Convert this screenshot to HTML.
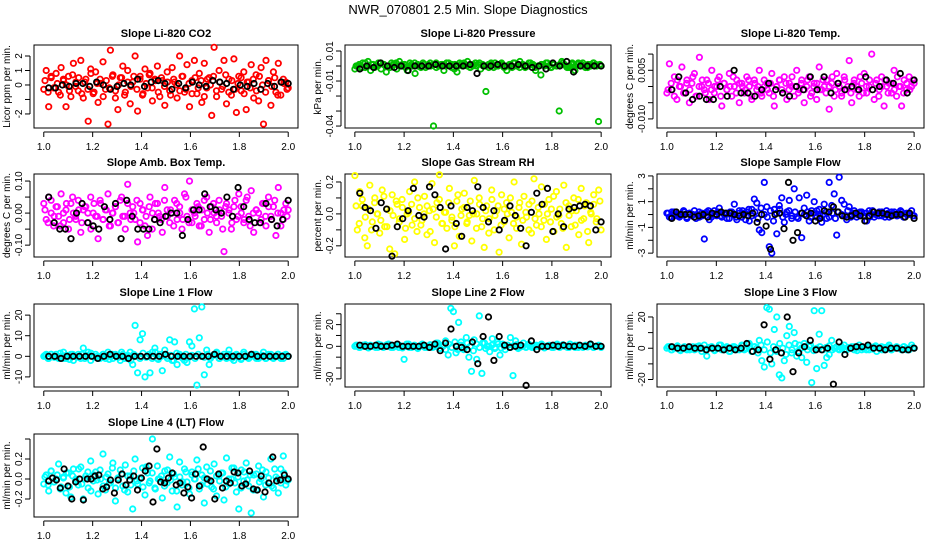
<!DOCTYPE html>
<html><head><meta charset="utf-8">
<style>
html,body{margin:0;padding:0;background:#fff;}
svg{display:block;font-family:"Liberation Sans",Arial,sans-serif;}
</style></head>
<body>
<svg id="chart" width="936" height="540" viewBox="0 0 936 540" xmlns="http://www.w3.org/2000/svg">
<text x="468" y="14" text-anchor="middle" font-size="13">NWR_070801  2.5 Min. Slope Diagnostics</text>
</svg>
<script>
// ---- data (values in the units of each panel's y ticks) ----
const xTicks = [1.0, 1.2, 1.4, 1.6, 1.8, 2.0];
const xTickLabels = ["1.0", "1.2", "1.4", "1.6", "1.8", "2.0"];

const co2Main = [-0.3,1,-1.5,0.5,-0.2,0.8,-0.5,1.2,0.3,-1.5,0.6,-0.8,1.5,0.2,-0.4,1.7,-0.9,0.4,-2.5,1.1,-0.6,0.9,-1.2,0.1,1.6,-0.3,-2.7,2.4,0.7,-0.9,-1.7,0.5,1.3,-0.5,1,-1.3,0.2,2,-1.8,0.6,-0.7,1.1,-0.2,0.8,-1.1,0.4,1.3,-0.8,0.3,-1.4,0.9,-0.4,1.2,0.2,-0.9,2,0.6,-0.5,1.4,-1.5,0.3,1.7,-0.6,0.8,-1.2,1.5,-0.2,0.5,-2.1,2.6,-0.8,1,-0.3,1.7,-1.3,0.4,-0.7,1.8,-1.9,0.6,-0.4,0.9,-1.7,0.2,1.4,-0.9,0.7,-1.1,1.2,-2.7,1.7,0.3,-1.4,0.9,-0.5,1.5,-0.7,0.4,0.2,-0.2];
const co2Core = [0.3,-0.5,0.6,-0.2,0.1,-0.7,0.4,0,-0.4,0.7,-0.1,0.5,-0.6,0.2,-0.3,0.8,-0.5,0.1,0.4,-0.8,0.3,-0.2,0.6,-0.4,0,0.5,-0.7,0.2,-0.1,0.6,-0.3,0.4,-0.6,0.1,0.7,-0.2,0.3,-0.5,0.5,-0.1,0.2,-0.7,0.4,0,-0.4,0.6,-0.3,0.1,-0.6,0.5,-0.2,0.3,-0.8,0.4,0,0.6,-0.4,0.2,-0.1,0.7,-0.5,0.3,-0.3,0.1,0.5,-0.6,0.2,-0.2,0.4,-0.4,0.6,0,-0.5,0.3,-0.1,0.5,-0.7,0.2,0.1,-0.3];
const co2Ref = [-0.2,-0.2,0,-0.1,0.1,0.1,-0.1,0.2,0,-0.3,-0.1,0.1,0,0.4,-0.1,0.2,0.3,0.1,-0.3,0.1,-0.2,0.2,0,-0.1,0.3,0.2,0.1,-0.3,0,-0.1,0.1,-0.3,0.1,-0.1,0.2,0.1];

const presMain = [-2,0,-1,2,-1,3,-3,1,0,2,-2,1,-4,0,2,1,-2,3,0,1,-3,2,0,-5,1,0,2,-1,1,0,-40,2,0,1,-3,2,0,1,-2,-4,2,0,1,3,-1,0,2,1,-2,0,-17,1,2,-1,0,1,2,0,-3,1,-1,2,0,3,1,-1,0,2,1,-3,0,-6,1,2,0,-1,1,0,-30,3,1,-1,0,2,-3,1,0,2,-1,1,0,2,1,-37,0];
const presCore = [0,1,-1,2,0,1,-1,0,2,1,0,-1,1,2,0,1,-1,0,1,2,0,-1,1,0,2,1,-1,0,1,0,2,-1,1,0,1,2,0,-1,1,0,2,1,0,-1,1,2,0,1,-1,0,1,2,0,-1,1,0,2,1,-1,0,1,0,2,-1,1,0,1,2,0,-1,1,0,2,1,0,-1,1,2,0,1];
const presRef = [-2,0,-1,2,0,-1,0,-3,0,0,0,1,0,0,0,0,1,-5,0,0,1,0,0,1,0,-1,0,-2,2,0,3,-4,0,0,0,0];

const tempMain = [-2,7,-1,3,-4,0,6,-2,2,-5,1,4,-3,9,0,-1,2,-4,5,-2,0,3,-6,1,-1,4,-3,0,2,-5,1,-2,3,0,-4,2,-1,5,-3,0,1,-2,4,-6,0,2,-1,3,-4,1,0,-3,5,-1,2,-5,0,3,-2,1,-4,6,-1,0,2,-7,1,-3,4,0,-2,3,-1,8,-5,2,0,-3,1,4,-2,0,10,-4,2,-1,3,-6,0,1,-2,5,-3,0,-6,2,-1,3,0,1];
const tempCore = [-1,1,-3,2,0,-2,1,-1,3,-3,0,2,-2,1,-1,0,2,-3,1,-1,0,3,-2,1,0,-1,2,-3,1,0,-2,2,-1,1,-3,0,2,-2,1,-1,3,0,-2,1,-1,2,-3,0,1,-1,2,-2,0,3,-1,1,-3,2,0,-2,1,-1,3,-2,0,2,-1,1,-3,0,2,-2,1,-1,3,0,-2,1,-1,2];
const tempRef = [-1,3,-2,-4,-3,-4,-4,0,-3,5,-2,-2,-3,-1,1,-1,-2,-3,0,-1,3,-1,3,-2,1,-1,0,-1,3,-1,0,2,1,4,-2,2];

const ambMain = [3,-2,5,0,-4,2,-1,6,-3,1,-5,3,0,-2,4,-6,1,2,-3,5,0,-1,-8,3,-2,1,6,-4,0,2,-3,4,-1,-5,9,0,2,-2,-9,3,1,-4,-7,5,0,-2,3,-1,-6,8,1,-3,0,4,-2,2,-5,6,-1,10,-3,0,3,-4,1,-2,5,-6,2,0,-3,4,-1,-12,3,1,-5,2,-2,6,0,-3,4,-1,7,-6,1,0,-2,3,-4,5,-1,2,-7,8,0,-2,3,1];
const ambCore = [1,-3,4,-1,2,-4,0,3,-2,5,-1,1,-3,2,0,-5,3,-1,4,-2,1,-4,0,2,-3,5,-1,3,-2,0,4,-3,1,-1,2,-5,3,0,-2,4,-1,1,-4,3,0,-2,5,-3,1,-1,2,-4,4,0,-2,3,-1,1,-5,2,0,-3,4,-1,2,-2,5,-4,0,1,-3,3,-1,2,-2,4,0,-4,1,-1];
const ambRef = [5,-3,-5,-5,-8,0,3,-3,-4,-5,2,-2,3,-8,4,-1,-5,-5,-5,-2,-3,-1,0,0,-7,-2,1,1,6,2,1,0,5,-1,8,2,-2,-3,-3,3,-2,-4,-2,4];

const rhMain = [24,-10,14,5,-15,-20,18,-5,10,0,-12,15,-8,3,-22,12,-25,6,-3,9,-16,0,14,-7,20,-11,4,-4,11,-13,2,19,-18,7,25,-6,1,-9,16,-2,-20,8,-14,3,13,-6,-1,-17,21,0,10,-8,-21,5,-3,15,-10,2,-24,12,-5,7,-15,1,20,-9,4,-19,11,-2,6,-12,22,-7,0,17,-4,-16,9,3,-11,14,-1,-6,18,-21,5,-8,10,2,-13,16,-3,7,-18,0,12,-5,15,-10];
const rhCore = [5,-6,9,-2,3,-10,7,0,-4,11,-8,2,-1,8,-5,4,-9,1,6,-3,10,-7,0,5,-11,3,-2,9,-6,1,7,-4,-8,12,-1,4,-5,8,0,-9,6,-3,2,-12,9,-1,5,-7,3,0,10,-6,-2,7,-4,1,-10,8,-3,4,-8,6,0,-5,11,-2,3,-9,7,-1,2,-7,9,-4,5,-11,1,6,-3,8];
const rhRef = [13,4,2,-9,7,3,-27,-8,-3,2,16,-1,-2,17,12,4,-22,5,-6,-14,4,2,17,4,-5,2,-10,-4,5,-1,-9,-20,1,13,6,16,-11,0,-8,3,4,5,6,5,-10,-5];

const sfMain = [0.1,-0.2,0.2,0,-0.1,-0.2,0,0.2,-0.3,0.1,-0.1,0.3,0,-0.2,0.1,-1.9,0.2,-0.4,0,0.3,-0.1,0.5,-0.2,0,0.1,-0.3,0.2,0.8,-0.4,0.3,-0.2,0.1,0.2,-0.5,0.4,1.2,0.9,-1.2,-1.4,2.5,0.6,-2.5,-3,0.4,-1.5,0.7,1.3,-0.6,0.2,1.1,-0.3,2.0,-0.2,1.3,-1.8,0.5,1.5,-0.5,0.3,1.0,-0.2,0.4,-0.6,0.8,-0.3,2.5,0.7,1.6,-1.6,2.9,1.1,0.8,-0.4,0.6,0,0.3,-0.2,0.1,0.2,-0.1,-0.5,0.3,0,-0.2,0.1,0.2,-0.1,0,0.3,-0.2,0.2,0,-0.1,0.1,0.2,-0.2,0,0.1,0.3,-0.1];
const sfCore = [0.1,-0.2,0.2,0,-0.1,0.3,-0.2,0.1,0,-0.3,0.2,-0.1,0.1,0.3,-0.2,0,0.2,-0.1,0.1,-0.3,0.2,0,-0.2,0.1,0.3,-0.4,0.4,-0.1,0.2,-0.3,0.5,0,-0.2,0.3,-0.5,0.1,0.4,-0.2,0,0.3,-0.1,0.2,-0.3,0.1,0,0.2,-0.2,0.1,0.3,-0.1,0,0.2,-0.2,0.1,-0.3,0.2,0,-0.1,0.3,-0.2,0.1,0,0.2,-0.1,0.1,-0.2,0.3,0,-0.1,0.2,-0.2,0.1,0,0.2,-0.1,0.3,-0.2,0.1,0,-0.1];
const sfRef = [-0.3,0.2,0,0,0,-0.2,-0.1,0,-0.2,0.1,0,0.2,0.1,0.1,0,-0.1,0,-0.1,0.1,-0.6,0,-0.9,-2.7,0,0.1,-1.1,2.5,-2.0,-1.4,0.1,-0.1,0.1,-0.5,-0.3,0.3,0.2,0.6,0.2,-0.1,-0.2,-0.1,0.1,-0.1,-0.5,-0.1,0.2,0.1,0.1,0,-0.1,0,0,-0.2,0.1,-0.3];

const l1Main = [0,1,-1,1,0,1,-1,0,2,-1,0,1,-2,0,1,-1,4,0,2,-2,0,1,-1,0,1,-1,2,0,-1,1,0,-2,1,0,-1,2,-4,15,-8,8,11,-10,0,-8,2,4,-1,1,-7,3,0,8,-2,7,-4,1,0,-2,-3,7,5,23,-14,9,24,-9,3,-4,0,1,2,-1,0,1,-1,3,0,-2,1,0,-1,2,0,-1,1,0,1,-1,0,2,-1,0,1,-1,0,1,0,-1,1,0];
const l1Core = [0.5,-1,1,-0.5,0,1.5,-1,0.5,-1.5,1,0,-0.5,1,-1,0.5,1.5,-0.5,0,-1,1,0.5,-1.5,1,0,-0.5,2,-1,0.5,-2,1,0,-1,1.5,-0.5,1,-1,2,-1.5,0,1,-1,0.5,-2,1.5,0,-1,1,-0.5,0.5,-1,1,0,-0.5,1,-1,0.5,1.5,-1,0,-0.5,1,-1,0.5,0,-1.5,1,-0.5,0.5,1,-1,0,0.5,-1,1,-0.5,0,1,-1,0.5,0];
const l1Ref = [0,0,-1,0,0,0,0,0,-1,0,1,0,0,-1,0,0,0,0,0,1,0,0,0,0,0,0,0,1,0,0,0,0,0,1,0,0,0,0,0,0];

const l2Main = [0,1,-1,1,0,-1,1,0,-1,2,1,-1,0,2,-1,0,1,-1,0,-12,2,-1,0,1,-1,0,2,-1,0,1,-1,0,3,-2,0,5,-8,35,32,-6,22,4,-3,8,-10,-23,6,-12,28,-25,3,0,-5,7,-2,4,-8,2,-3,1,8,-27,5,-2,0,3,-1,2,0,-1,1,0,2,-1,0,1,-1,0,2,-1,1,0,-1,2,0,-1,1,0,-1,1,0,2,-1,0,1,-1];
const l2Core = [1,-1,0,1.5,-1.5,0.5,0,-1,1,-0.5,1.5,0,-1,0.5,1,-1.5,0,2,-1,0.5,-2,1,0,-1,1.5,-0.5,3,-2,1,-3,2,-1,4,-3,1,-2,3,0,-4,2,-1,3,-2,0,1,-1,2,-1.5,0,1,-1,0.5,1.5,-1,0,-0.5,1,-1,0.5,0,1,-1.5,0.5,0,-1,1,-0.5,1.5,0,-1,0.5,1,-1,0,0.5,-0.5,1,-1,0,0.5];
const l2Ref = [1,0,0,1,0,0,1,2,0,0,0,0,1,-1,2,-4,3,16,0,-1,-3,4,-16,9,27,-13,9,1,-1,0,1,-36,5,-3,0,0,1,0,1,0,0,1,0,2,0,0];

const l3Main = [0,1,-1,0,1,-1,0,1,-1,0,0,-1,1,0,-2,2,-5,0,1,-1,0,2,-1,0,1,-2,0,1,-1,0,2,-1,0,3,-2,1,0,5,-8,-12,26,25,-10,12,20,-17,-19,-8,8,14,-3,10,-5,2,-6,3,-9,1,-22,24,-13,9,24,-11,-6,-4,5,0,1,-1,0,2,-1,0,1,-1,0,2,-1,0,1,-1,0,1,-2,0,1,-1,0,2,-1,0,1,0,-1,1,0,-1,2,0];
const l3Core = [1,-1,0,1.5,-1.5,0.5,0,-1,1,-0.5,1.5,0,-1,0.5,1,-1.5,0,2,-1,0.5,-2,1,0,-1,1.5,-0.5,3,-2,1,-3,2,-1,4,-3,1,-2,3,0,-4,2,-1,3,-2,0,1,-1,2,-1.5,0,1,-1,0.5,1.5,-1,0,-0.5,1,-1,0.5,0,1,-1.5,0.5,0,-1,1,-0.5,1.5,0,-1,0.5,1,-1,0,0.5,-0.5,1,-1,0,0.5];
const l3Ref = [1,0,0,1,0,0,-1,0,0,-1,0,-1,0,3,-2,-1,15,-7,-1,-3,20,-15,-3,1,5,-1,-1,0,-23,4,-4,0,1,1,2,0,0,-1,0,0,-1,-1,0];

const l4Main = [-5,4,-12,8,-3,0,15,-8,2,-14,6,-18,10,0,-6,12,-20,3,-9,18,-2,7,-15,0,25,-11,5,-4,16,-22,1,9,-7,14,-13,3,-30,20,-5,0,11,-16,6,-2,40,-9,13,0,-19,8,-4,22,-12,2,-28,17,-6,10,-3,-15,7,0,19,-10,4,-24,12,-1,-8,15,-17,3,6,-21,21,-5,0,11,-13,-30,9,-2,16,-7,-34,4,-11,13,0,-18,7,-4,20,-9,2,-14,10,23,-6,-1];
const l4Core = [2,-6,8,-3,4,-10,1,6,-8,3,-2,10,-5,0,7,-12,4,-1,9,-7,2,-4,11,-9,0,5,-11,3,-6,8,-2,1,-8,12,-4,6,-10,0,3,-7,9,-1,5,-12,2,-3,7,-9,4,0,10,-6,1,-5,8,-10,3,-2,6,-8,0,11,-4,2,-9,7,-1,4,-11,5,-3,9,-6,1,-7,10,0,-4,6,-2];
const l4Ref = [-2,1,-1,-9,10,-7,-20,-3,0,-21,0,0,3,4,-10,-8,-1,-14,-1,5,-6,-1,3,-11,1,8,13,-23,30,-3,-4,1,6,-6,-4,-14,-8,-19,5,-7,32,0,-2,-20,5,-9,-2,-4,7,6,-7,-5,8,-10,-11,3,-13,-4,22,-2,-1,4,0];

// ---- panel definitions (layout, not data) ----
const panels = [
 {name:"co2", title:"Slope Li-820 CO2", ylab:"Licor ppm per min.", col:0,row:0, color:"#ff0000", main:co2Main, core:co2Core, ref:co2Ref, ymin:-2.97, ymax:2.76, ticks:[2,1,0,-1,-2], labels:["2","1","0","","-2"]},
 {name:"pressure", title:"Slope Li-820 Pressure", ylab:"kPa per min.", col:1,row:0, color:"#00c000", main:presMain, core:presCore, ref:presRef, ymin:-41.3, ymax:14, ticks:[10,0,-10,-20,-30,-40], labels:["0.01","","-0.01","","","-0.04"]},
 {name:"temp", title:"Slope Li-820 Temp.", ylab:"degrees C per min.", col:2,row:0, color:"#ff00ff", main:tempMain, core:tempCore, ref:tempRef, ymin:-12.8, ymax:12.8, ticks:[10,5,0,-5,-10], labels:["","0.005","","","-0.010"]},
 {name:"amb-box-temp", title:"Slope Amb. Box Temp.", ylab:"degrees C per min.", col:0,row:1, color:"#ff00ff", main:ambMain, core:ambCore, ref:ambRef, ymin:-13.7, ymax:12.2, ticks:[10,5,0,-5,-10], labels:["0.10","","0.00","","-0.10"]},
 {name:"gas-rh", title:"Slope Gas Stream RH", ylab:"percent per min.", col:1,row:1, color:"#ffff00", main:rhMain, core:rhCore, ref:rhRef, ymin:-27, ymax:25, ticks:[20,10,0,-10,-20], labels:["0.2","","0.0","","-0.2"]},
 {name:"sample-flow", title:"Slope Sample Flow", ylab:"ml/min per min.", col:2,row:1, color:"#0000ff", main:sfMain, core:sfCore, ref:sfRef, ymin:-3.3, ymax:3.15, ticks:[3,2,1,0,-1,-2,-3], labels:["3","","1","","-1","","-3"]},
 {name:"line1-flow", title:"Slope Line 1 Flow", ylab:"ml/min per min.", col:0,row:2, color:"#00ffff", main:l1Main, core:l1Core, ref:l1Ref, ymin:-14.9, ymax:25.4, ticks:[20,10,0,-10], labels:["20","10","0","-10"]},
 {name:"line2-flow", title:"Slope Line 2 Flow", ylab:"ml/min per min.", col:1,row:2, color:"#00ffff", main:l2Main, core:l2Core, ref:l2Ref, ymin:-37.5, ymax:39, ticks:[30,20,10,0,-10,-20,-30], labels:["","20","","0","","","-30"]},
 {name:"line3-flow", title:"Slope Line 3 Flow", ylab:"ml/min per min.", col:2,row:2, color:"#00ffff", main:l3Main, core:l3Core, ref:l3Ref, ymin:-24.8, ymax:28.3, ticks:[20,10,0,-10,-20], labels:["20","","0","","-20"]},
 {name:"line4-flow", title:"Slope Line 4 (LT) Flow", ylab:"ml/min per min.", col:0,row:3, color:"#00ffff", main:l4Main, core:l4Core, ref:l4Ref, ymin:-38, ymax:45, ticks:[40,20,0,-20], labels:["","0.2","0.0","-0.2"]}
];
const colLeft = [34, 345, 657], colRight = [298, 611, 924];
const rowTop = [45, 174, 304, 434], plotH = 83;

const NS = "http://www.w3.org/2000/svg";
const svg = document.getElementById("chart");
function mk(tag, attrs, parent) {
  const e = document.createElementNS(NS, tag);
  for (const k in attrs) e.setAttribute(k, attrs[k]);
  (parent || svg).appendChild(e);
  return e;
}

panels.forEach(p => {
  const L = colLeft[p.col], R = colRight[p.col], T = rowTop[p.row], B = T + plotH;
  const g = mk("g", {});
  
  
  const xs = v => L + (v - 0.96) / 1.08 * (R - L);
  const ys = v => B - (v - p.ymin) / (p.ymax - p.ymin) * (B - T);
  const clampY = v => Math.max(p.ymin + 0.01*(p.ymax-p.ymin), Math.min(p.ymax - 0.01*(p.ymax-p.ymin), v));

  const t = mk("text", {x:(L+R)/2, y:T-8, "text-anchor":"middle", "font-size":"11", "font-weight":"bold"}, g);
  t.textContent = p.title;
  
  

  const box = mk("rect", {x:L, y:T, width:R-L, height:plotH, fill:"none", stroke:"#000", "stroke-width":"1"}, g);
  
  

  const xa = mk("g", {}, g);
  
  
  mk("line", {x1:xs(xTicks[0]), x2:xs(xTicks[xTicks.length-1]), y1:B+4, y2:B+4, stroke:"#000"}, xa);
  xTicks.forEach((v, i) => {
    mk("line", {x1:xs(v), x2:xs(v), y1:B+4, y2:B+9, stroke:"#000"}, xa);
    const tl = mk("text", {x:xs(v), y:B+22, "text-anchor":"middle", "font-size":"10"}, xa);
    tl.textContent = xTickLabels[i];
    
    
  });

  const ya = mk("g", {}, g);
  
  
  mk("line", {x1:L-4, x2:L-4, y1:ys(p.ticks[0]), y2:ys(p.ticks[p.ticks.length-1]), stroke:"#000"}, ya);
  p.ticks.forEach((v, i) => {
    mk("line", {x1:L-9, x2:L-4, y1:ys(v), y2:ys(v), stroke:"#000"}, ya);
    if (p.labels[i]) {
      const tl = mk("text", {x:L-12, y:ys(v), "text-anchor":"middle", "font-size":"10", transform:`rotate(-90 ${L-12} ${ys(v)})`}, ya);
      tl.textContent = p.labels[i];
      
      
    }
  });
  const yt = mk("text", {x:L-24, y:(T+B)/2, "text-anchor":"middle", "font-size":"10", transform:`rotate(-90 ${L-24} ${(T+B)/2})`}, g);
  yt.textContent = p.ylab;
  
  

  const sm = mk("g", {fill:"none", stroke:p.color, "stroke-width":"1.8"}, g);
  
  
  const nm = p.main.length;
  p.main.forEach((v, i) => {
    const x = 1 + i / (nm - 1);
    const c = mk("circle", {cx:xs(x).toFixed(1), cy:ys(clampY(v)).toFixed(1), r:"2.7"}, sm);
    
    
  });
  const nc = p.core.length;
  p.core.forEach((v, i) => {
    const x = 1.005 + i / (nc - 1) * 0.99;
    const c = mk("circle", {cx:xs(x).toFixed(1), cy:ys(clampY(v)).toFixed(1), r:"2.7"}, sm);
    
    
  });
  const sr = mk("g", {fill:"none", stroke:"#000", "stroke-width":"1.8"}, g);
  
  
  const nr = p.ref.length;
  p.ref.forEach((v, i) => {
    const x = 1.02 + i / (nr - 1) * 0.98;
    const c = mk("circle", {cx:xs(x).toFixed(1), cy:ys(clampY(v)).toFixed(1), r:"2.7"}, sr);
    
    
  });
});
</script>
</body></html>
